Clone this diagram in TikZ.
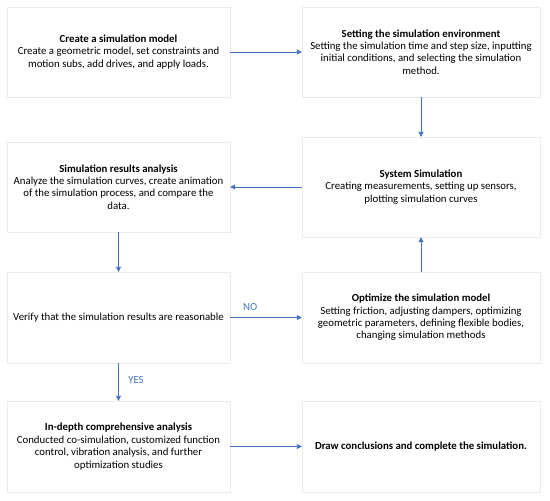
\documentclass[tikz,border=0pt]{standalone}
\usepackage{fontspec}
\setmainfont{Carlito}
\usetikzlibrary{arrows.meta,positioning}
\definecolor{flowblue}{HTML}{4472C4}
\tikzset{
  stepL/.style={ draw=black!8, fill=white, align=center, minimum width=223pt, minimum height=90pt, inner sep=2pt, font=\fontsize{10.8}{12.4}\selectfont }
}
\tikzset{
  stepR/.style={ stepL, minimum width=238pt }
}
\tikzset{
  flow/.style={ draw=flowblue, line width=0.9pt, -{Triangle[length=5pt,width=5pt]} }
}
\tikzset{
  answer/.style={ text=flowblue, font=\fontsize{10.8}{12}\selectfont }
}
\begin{document}
\begin{tikzpicture}[x=1pt, y=-1pt]
      \useasboundingbox (0,0) rectangle (550,501);

      \node[stepL] (model) at (118.5, 52) {\textbf{Create a simulation model}\\Create a geometric model, set constraints and\\motion subs, add drives, and apply loads.};
      \node[stepR] (env) at (421, 52) {\textbf{Setting the simulation environment}\\Setting the simulation time and step size, inputting\\initial conditions, and selecting the simulation\\method.};

      \node[stepL] (results) at (118.5, 187) {\textbf{Simulation results analysis}\\Analyze the simulation curves, create animation\\of the simulation process, and compare the\\data.};
      \node[stepR, minimum height=100pt] (system) at (421, 187) {\textbf{System Simulation}\\Creating measurements, setting up sensors,\\plotting simulation curves};

      \node[stepL, minimum height=91pt] (verify) at (118.5, 317.5) {Verify that the simulation results are reasonable};
      \node[stepR, minimum height=91pt] (optim) at (421, 317.5) {\textbf{Optimize the simulation model}\\Setting friction, adjusting dampers, optimizing\\geometric parameters, defining flexible bodies,\\changing simulation methods};

      \node[stepL, minimum height=91pt] (deep) at (118.5, 446.5) {\textbf{In-depth comprehensive analysis}\\Conducted co-simulation, customized function\\control, vibration analysis, and further\\optimization studies};
      \node[stepR, minimum height=91pt] (final) at (421, 446.5) {\textbf{Draw conclusions and complete the simulation.}};

      \begin{scope}[flow]
        \draw (model) -- (env);
        \draw (env) -- (system);
        \draw (system) -- (results);
        \draw (results) -- (verify);
        \draw (verify) -- node[answer, pos=0.28, above=3pt] {NO} (optim);
        \draw (optim) -- (system);
        \draw (verify) -- node[answer, pos=0.45, right=6pt] {YES} (deep);
        \draw (deep) -- (final);
      \end{scope}
    \end{tikzpicture}
\end{document}
